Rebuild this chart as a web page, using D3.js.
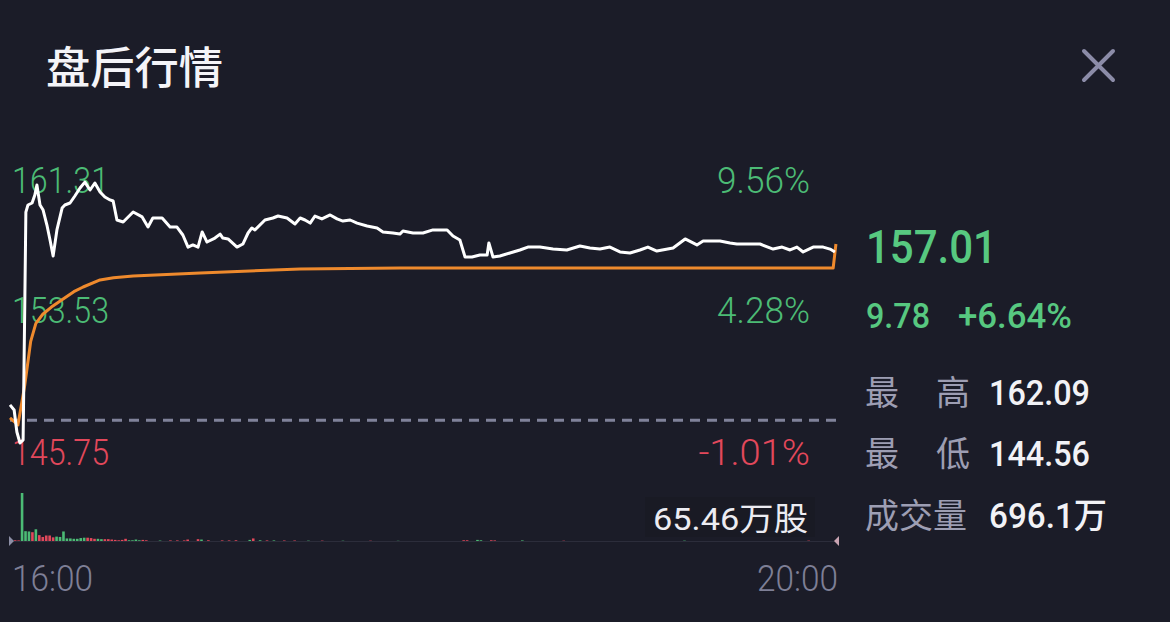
<!DOCTYPE html>
<html>
<head>
<meta charset="utf-8">
<script src="https://cdn.jsdelivr.net/npm/d3@7"></script>
<style>
	body { margin: 0; background: #1b1c28; }
	svg { display: block; }
</style>
</head>
<body>
<div id="chart"></div>
<script>
// after-hours minute line, minutes since 16:00
var price_min = [0, 1.2, 2.0, 2.9, 3.8, 4.3, 4.6, 5.2, 6.4, 7.2, 7.8, 8.7, 9.6, 10.7, 11.6, 12.5, 13.6, 15.1, 15.9, 17.4,
	18.8, 20.3, 21.7, 23.2, 24.6, 26.1, 27.5, 29.0, 29.9, 31.0, 32.8, 35.7, 38.3, 40.0, 41.4, 44.1, 46.4, 48.4, 50.1, 51.6,
	53.0, 54.5, 55.7, 57.1, 59.4, 60.9, 61.7, 63.2, 65.8, 67.5, 69.0, 70.1, 71.0, 73.9, 76.2, 77.7, 80.3, 82.6, 84.1, 85.5,
	87.0, 88.4, 90.4, 92.8, 94.8, 96.5, 98.6, 100.6, 103.5, 106.4, 108.1, 111.0, 113.0, 113.9, 116.8, 119.7, 122.6, 126.7, 128.4, 130.4,
	131.9, 133.9, 136.2, 138.3, 138.8, 140.0, 142.0, 144.9, 147.8, 150.1, 153.6, 157.4, 161.4, 165.2, 168.1, 171.0, 173.9, 176.8, 179.7, 182.6,
	184.9, 187.5, 192.2, 195.7, 199.1, 200.9, 205.8, 208.7, 210.7, 217.4, 221.2, 223.8, 226.1, 228.1, 229.9, 232.8, 235.7, 237.7, 239.1];
var price = [148.08, 147.80, 146.58, 145.97, 146.14, 153.89, 158.76, 159.15, 159.26, 159.70, 160.26, 159.15, 158.87, 158.04, 157.21, 156.33, 157.77, 158.98, 159.15, 159.26,
	159.65, 160.09, 160.42, 159.98, 160.37, 159.87, 159.59, 159.43, 159.37, 158.32, 158.21, 158.76, 158.49, 157.93, 158.43, 158.43, 157.93, 157.93, 157.49, 156.82,
	156.94, 156.82, 157.66, 157.10, 157.32, 157.54, 157.32, 157.27, 156.82, 156.99, 157.60, 157.88, 157.77, 158.32, 158.43, 158.54, 158.43, 158.10, 158.43, 158.32,
	158.15, 158.54, 158.38, 158.60, 158.38, 158.26, 158.32, 158.15, 157.99, 157.88, 157.66, 157.60, 157.54, 157.71, 157.60, 157.60, 157.77, 157.77, 157.43, 157.21,
	156.27, 156.27, 156.38, 156.38, 157.05, 156.27, 156.33, 156.49, 156.66, 156.82, 156.82, 156.71, 156.66, 156.88, 156.77, 156.71, 156.82, 156.55, 156.49, 156.66,
	156.82, 156.60, 156.77, 157.27, 156.94, 157.16, 157.16, 157.05, 156.99, 156.99, 156.71, 156.82, 156.66, 156.82, 156.55, 156.82, 156.82, 156.71, 156.55];

// average price line
var avg_min = [0, 2.3, 4.3, 6.0, 7.5, 9.5, 12.0, 15.4, 18.5, 21.2, 26.1, 30.0, 35.7, 55.1, 84.1, 113.0, 238.6, 239.4];
var avg_price = [147.36, 146.97, 149.20, 151.60, 152.60, 153.10, 153.50, 153.95, 154.35, 154.61, 155.00, 155.12, 155.22, 155.38, 155.61, 155.66, 155.66, 156.99];

// volume bars (万股), 1 = up, 0 = down
var vol_min = [1, 2, 3, 4, 5, 6, 7, 8, 9, 10, 11, 12, 13, 14, 15, 16, 17, 18, 19, 20,
	21, 22, 23, 24, 25, 26, 27, 28, 29, 30, 31, 32, 33, 34, 35, 36, 37, 38, 39, 43,
	46, 48, 50, 51, 54, 55, 57, 61, 63, 65, 69, 70, 72, 74, 76, 79, 82, 86, 90, 96,
	104, 112, 131, 132, 135, 136, 139, 140, 148, 160, 195, 231];
var vol = [1.0, 0.8, 65.46, 13.4, 13.0, 12.0, 16.0, 8.0, 5.5, 7.5, 7.5, 5.0, 6.0, 5.5, 13.0, 3.5, 3.5, 3.0, 3.0, 4.0,
	4.5, 4.5, 4.0, 3.0, 3.0, 2.5, 2.5, 2.5, 2.0, 1.5, 1.0, 1.5, 3.0, 1.0, 1.0, 2.0, 1.0, 1.5, 1.0, 0.6,
	0.8, 0.8, 0.8, 2.0, 2.5, 2.0, 1.0, 0.8, 0.8, 1.0, 1.5, 3.5, 1.0, 0.8, 0.8, 0.7, 0.7, 0.5, 0.5, 0.4,
	0.4, 0.3, 1.0, 1.0, 1.5, 1.0, 1.0, 0.8, 0.8, 0.4, 0.5, 0.5];
var vol_dir = [0, 0, 1, 1, 1, 0, 1, 0, 0, 0, 0, 0, 1, 1, 1, 1, 1, 1, 1, 1,
	1, 0, 0, 0, 1, 1, 0, 0, 0, 0, 0, 0, 0, 1, 1, 1, 1, 0, 0, 1,
	0, 0, 0, 0, 0, 1, 0, 0, 0, 0, 1, 0, 1, 0, 1, 0, 0, 1, 0, 1,
	0, 1, 0, 0, 1, 1, 0, 0, 1, 0, 1, 0];

var prev_close = 147.23;
var y_ticks = [161.31, 153.53, 145.75];
var pct_ticks = ['9.56%', '4.28%', '-1.01%'];
var time_ticks = ['16:00', '20:00'];
var vol_max_label = '65.46万股';
var last_price = '157.01';
var change = '9.78';
var change_pct = '+6.64%';
var stat_labels = [['最', '高'], ['最', '低'], ['成交量']];
var stat_values = ['162.09', '144.56', '696.1万'];

var green = '#4cbb75';
var green_big = '#57c880';
var red = '#e2485b';
var grey = '#7e7f96';
var num_font = 'Roboto, "DejaVu Sans", sans-serif';
var cjk_font = '"Noto Sans CJK SC", "Noto Sans", sans-serif';

var svg = d3.select('#chart')
	.append('svg')
		.attr('width', 1170)
		.attr('height', 622);

svg.append('rect')
	.attr('width', 1170)
	.attr('height', 622)
	.attr('fill', '#1b1c28');

// title
svg.append('text')
	.attr('x', 46)
	.attr('y', 84)
	.attr('textLength', 177)
	.attr('lengthAdjust', 'spacingAndGlyphs')
	.text('盘后行情')
	.style('font-family', cjk_font)
	.style('font-weight', 500)
	.style('font-size', '44px')
	.style('fill', '#f4f4f8');

// close button
svg.append('path')
	.attr('d', 'M1084,51L1113,80M1113,51L1084,80')
	.attr('stroke', '#8c8ca8')
	.attr('stroke-width', 4)
	.attr('stroke-linecap', 'round');

var x = d3.scaleLinear()
	.domain([0, 240])
	.range([10, 838]);

var y = d3.scaleLinear()
	.domain([145.75, 161.31])
	.range([447, 166]);

var yv = d3.scaleLinear()
	.domain([0, 65.46])
	.range([541, 493]);

// prev close
svg.append('line')
	.attr('x1', x(0))
	.attr('x2', x(240))
	.attr('y1', y(prev_close))
	.attr('y2', y(prev_close))
	.attr('stroke', '#80829a')
	.attr('stroke-width', 3)
	.attr('stroke-dasharray', '10,7');

// price axis labels
var tick_y = [193, 323, 465];
svg.selectAll('.ylab')
	.data(y_ticks)
	.enter()
	.append('text')
		.attr('class', 'ylab')
		.attr('x', 12)
		.attr('y', function(d, i) { return tick_y[i]; })
		.attr('textLength', 97)
		.attr('lengthAdjust', 'spacingAndGlyphs')
		.text(function(d) { return d.toFixed(2); })
		.style('font-family', num_font)
		.style('font-weight', 300)
		.style('font-size', '36px')
		.style('fill', function(d) { return d < prev_close ? red : green; });

svg.selectAll('.plab')
	.data(pct_ticks)
	.enter()
	.append('text')
		.attr('class', 'plab')
		.attr('x', 810)
		.attr('y', function(d, i) { return tick_y[i]; })
		.attr('text-anchor', 'end')
		.attr('textLength', function(d) { return d.length * 18.6; })
		.attr('lengthAdjust', 'spacingAndGlyphs')
		.text(function(d) { return d; })
		.style('font-family', num_font)
		.style('font-weight', 300)
		.style('font-size', '36px')
		.style('fill', function(d) { return d[0] == '-' ? red : green; });

// average line
var avg_data = avg_min.map(function(m, i) { return [m, avg_price[i]]; });
svg.append('path')
	.datum(avg_data)
	.attr('fill', 'none')
	.attr('stroke', '#ef8a2d')
	.attr('stroke-width', 3)
	.attr('stroke-linejoin', 'round')
	.attr('d', d3.line()
		.x(function(d) { return x(d[0]); })
		.y(function(d) { return y(d[1]); }));

// price line
var price_data = price_min.map(function(m, i) { return [m, price[i]]; });
svg.append('path')
	.datum(price_data)
	.attr('fill', 'none')
	.attr('stroke', '#ffffff')
	.attr('stroke-width', 3)
	.attr('stroke-linejoin', 'round')
	.attr('d', d3.line()
		.x(function(d) { return x(d[0]); })
		.y(function(d) { return y(d[1]); }));

// volume
svg.append('line')
	.attr('x1', x(0))
	.attr('x2', x(240))
	.attr('y1', 541.5)
	.attr('y2', 541.5)
	.attr('stroke', '#2c2d3b')
	.attr('stroke-width', 1);

svg.append('rect')
	.attr('x', 645)
	.attr('y', 497)
	.attr('width', 170)
	.attr('height', 40)
	.attr('fill', '#191a24');

var bar_w = 2.6;
svg.selectAll('.vbar')
	.data(vol)
	.enter()
	.append('rect')
		.attr('class', 'vbar')
		.attr('x', function(d, i) { return x(vol_min[i] + 0.5) - bar_w / 2; })
		.attr('y', function(d) { return yv(d); })
		.attr('width', bar_w)
		.attr('height', function(d) { return yv(0) - yv(d); })
		.attr('fill', function(d, i) { return vol_dir[i] ? green : red; });

svg.append('path')
	.attr('d', 'M9,536L14,541L9,546Z')
	.attr('fill', '#8d8fa6');
svg.append('path')
	.attr('d', 'M839,536L834,541L839,546Z')
	.attr('fill', '#c9a3b2');

svg.append('text')
	.attr('x', 653)
	.attr('y', 530)
	.attr('textLength', 155)
	.attr('lengthAdjust', 'spacingAndGlyphs')
	.text(vol_max_label)
	.style('font-family', num_font + ', ' + cjk_font)
	.style('font-size', '32px')
	.style('fill', '#ececf2');

// time labels
svg.selectAll('.tlab')
	.data(time_ticks)
	.enter()
	.append('text')
		.attr('class', 'tlab')
		.attr('x', function(d, i) { return i ? 838 : 12; })
		.attr('y', 591)
		.attr('text-anchor', function(d, i) { return i ? 'end' : 'start'; })
		.attr('textLength', 81)
		.attr('lengthAdjust', 'spacingAndGlyphs')
		.text(function(d) { return d; })
		.style('font-family', num_font)
		.style('font-weight', 300)
		.style('font-size', '36px')
		.style('fill', grey);

// right panel
svg.append('text')
	.attr('x', 866)
	.attr('y', 263)
	.attr('textLength', 131)
	.attr('lengthAdjust', 'spacingAndGlyphs')
	.text(last_price)
	.style('font-family', num_font)
	.style('font-weight', 500)
	.style('font-size', '46px')
	.style('fill', green_big);

svg.append('text')
	.attr('x', 866)
	.attr('y', 328)
	.attr('textLength', 64)
	.attr('lengthAdjust', 'spacingAndGlyphs')
	.text(change)
	.style('font-family', num_font)
	.style('font-weight', 500)
	.style('font-size', '35px')
	.style('fill', green_big);

svg.append('text')
	.attr('x', 958)
	.attr('y', 328)
	.attr('textLength', 114)
	.attr('lengthAdjust', 'spacingAndGlyphs')
	.text(change_pct)
	.style('font-family', num_font)
	.style('font-weight', 500)
	.style('font-size', '35px')
	.style('fill', green_big);

var row_y = [405, 466, 528];
stat_labels.forEach(function(lab, i) {
	var t = svg.append('text')
		.attr('y', row_y[i])
		.style('font-family', cjk_font)
		.style('font-size', '34px')
		.style('fill', '#9d9eb3');
	if (lab.length == 2) {
		t.append('tspan').attr('x', 865).text(lab[0]);
		t.append('tspan').attr('x', 936).text(lab[1]);
	} else {
		t.attr('x', 865).text(lab[0]);
	}
});

svg.selectAll('.sval')
	.data(stat_values)
	.enter()
	.append('text')
		.attr('class', 'sval')
		.attr('x', 989)
		.attr('y', function(d, i) { return row_y[i]; })
		.attr('textLength', function(d, i) { return i == 2 ? 118 : 101; })
		.attr('lengthAdjust', 'spacingAndGlyphs')
		.text(function(d) { return d; })
		.style('font-family', num_font + ', ' + cjk_font)
		.style('font-weight', 500)
		.style('font-size', '35px')
		.style('fill', '#f2f2f6');
</script>
</body>
</html>
